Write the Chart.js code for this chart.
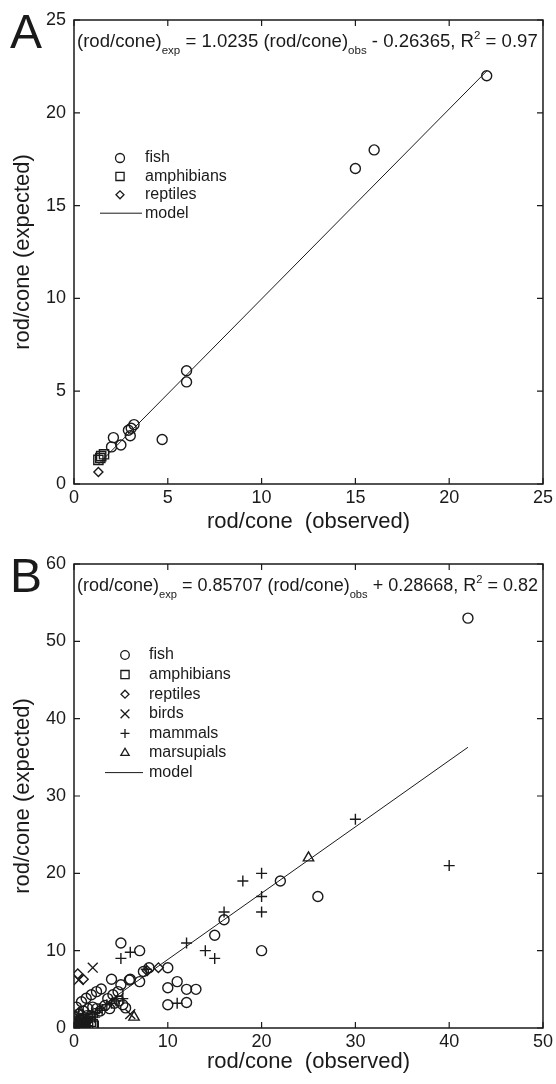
<!DOCTYPE html>
<html>
<head>
<meta charset="utf-8">
<script src="https://cdn.jsdelivr.net/npm/chart.js@4"></script>
<style>
  body { margin: 0; background: #fff; }
  canvas { display: block; }
</style>
</head>
<body>
<canvas id="chartA" width="556" height="544"></canvas>
<canvas id="chartB" width="556" height="540"></canvas>
<script>
// panel A values
const aFishX = [22, 16, 15, 6, 6, 4.7, 3.2, 3.05, 2.9, 3.0, 2.1, 2.0, 2.5];
const aFishY = [22, 18, 17, 6.1, 5.5, 2.4, 3.2, 3.0, 2.9, 2.6, 2.5, 2.0, 2.1];
const aAmphX = [1.3, 1.45, 1.6, 1.4];
const aAmphY = [1.3, 1.5, 1.6, 1.4];
const aReptX = [1.3];
const aReptY = [0.65];
const aModelX = [1.3, 22];
const aModelY = [1.07, 22.25];
const aXTicks = [0, 5, 10, 15, 20, 25];
const aYTicks = [0, 5, 10, 15, 20, 25];

// panel B values
const bFishX = [42, 26, 22, 20, 16, 15, 10, 8, 7.4, 7, 5, 7, 6, 4, 11, 10, 12, 13, 10, 12,
  0.25, 0.8, 1.3, 1.85, 2.4, 2.9, 5.0, 5.9, 3.6, 4.15, 4.7, 3.3, 3.8, 4.3, 4.8, 5.2,
  2.4, 2.8, 0.5, 1.0, 1.5, 2.0, 0.9, 1.4, 0.2, 0.6, 1.8, 5.5];
const bFishY = [53, 17, 19, 10, 14, 12, 7.8, 7.8, 7.3, 10, 11, 6, 6.3, 6.3, 6, 5.2, 5, 5, 3, 3.3,
  2.7, 3.4, 3.85, 4.3, 4.7, 5.05, 5.6, 6.2, 3.8, 4.3, 4.7, 2.9, 2.5, 3.2, 3.5, 3.0,
  2.5, 2.2, 1.8, 2.2, 2.5, 2.7, 1.2, 1.6, 0.9, 0.4, 1.6, 2.6];
const bAmphX = [2.1, 0.3, 0.6, 1.0, 1.5, 0.2, 1.8, 0.4, 0.9, 1.2, 2.0];
const bAmphY = [0.3, 0.2, 0.5, 0.3, 0.15, 0.6, 0.8, 0.0, 0.1, 0.0, 0.5];
const bReptX = [0.4, 1.0, 9.0, 7.8, 0.2, 0.5, 0.1];
const bReptY = [7.0, 6.3, 7.8, 7.4, 1.5, 2.0, 0.5];
const bBirdX = [2.0, 6.0, 0.5, 0.2, 0.8, 1.5, 0.4, 1.2];
const bBirdY = [7.8, 1.8, 6.2, 0.4, 1.0, 0.3, 0.7, 1.3];
const bMammX = [40, 30, 20, 20, 20, 18, 16, 15, 14, 12, 11, 5, 6, 7.7, 5.2,
  0.2, 0.5, 1.0, 1.5, 2.0, 2.5, 3.0, 3.5, 4.0, 4.5, 0.3, 1.2, 0.8,
  0.1, 0.4, 0.7, 1.1, 1.4, 1.7, 2.2, 2.7, 0.5, 0.9];
const bMammY = [21, 27, 20, 17, 15, 19, 15, 9, 10, 11, 3.2, 9, 9.8, 7.6, 3.8,
  0.3, 0.8, 1.0, 1.2, 1.8, 2.0, 2.3, 3.0, 3.2, 3.5, 1.2, 0.5, 0.3,
  0.1, 0.2, 0.6, 0.8, 0.3, 1.5, 1.4, 2.5, 1.4, 1.8];
const bMarsX = [25, 6.4, 0.3, 0.6, 1.0];
const bMarsY = [22, 1.4, 0.3, 0.6, 0.2];
const bModelX = [0.1, 42];
const bModelY = [0.37, 36.3];
const bXTicks = [0, 10, 20, 30, 40, 50];
const bYTicks = [0, 10, 20, 30, 40, 50, 60];

const FONT = '"Liberation Sans", Arial, sans-serif';
const INK = '#1a1a1a';

function pts(xs, ys) {
  return xs.map((x, i) => ({ x: x, y: ys[i] }));
}

function markers(label, xs, ys, style, r) {
  return {
    label: label,
    data: pts(xs, ys),
    pointStyle: style,
    pointRadius: r,
    pointHoverRadius: r,
    pointBorderWidth: 1.4,
    pointBorderColor: INK,
    pointBackgroundColor: 'rgba(0,0,0,0)',
    showLine: false
  };
}

function modelLine(xs, ys) {
  return {
    label: 'model',
    data: pts(xs, ys),
    showLine: true,
    pointRadius: 0,
    borderColor: INK,
    borderWidth: 1,
    fill: false
  };
}

function drawMarker(ctx, style, r, x, y) {
  ctx.save();
  ctx.strokeStyle = INK;
  ctx.fillStyle = 'rgba(0,0,0,0)';
  ctx.lineWidth = 1.3;
  Chart.helpers.drawPoint(ctx, { pointStyle: style, radius: r, rotation: 0, borderWidth: 1.3 }, x, y);
  ctx.restore();
}

// box, inward ticks, panel letter, equation and legend
function decorations(cfg) {
  return {
    id: 'deco',
    afterDraw(chart) {
      const ctx = chart.ctx;
      const a = chart.chartArea;
      const xs = chart.scales.x, ys = chart.scales.y;
      ctx.save();
      ctx.strokeStyle = INK;
      ctx.lineWidth = 1.5;
      ctx.strokeRect(a.left, a.top, a.right - a.left, a.bottom - a.top);
      ctx.lineWidth = 1.2;
      ctx.beginPath();
      cfg.xTicks.forEach(v => {
        const px = xs.getPixelForValue(v);
        ctx.moveTo(px, a.bottom); ctx.lineTo(px, a.bottom - 6);
        ctx.moveTo(px, a.top); ctx.lineTo(px, a.top + 6);
      });
      cfg.yTicks.forEach(v => {
        const py = ys.getPixelForValue(v);
        ctx.moveTo(a.left, py); ctx.lineTo(a.left + 6, py);
        ctx.moveTo(a.right, py); ctx.lineTo(a.right - 6, py);
      });
      ctx.stroke();

      // panel letter
      ctx.fillStyle = INK;
      ctx.font = '48px ' + FONT;
      ctx.textBaseline = 'alphabetic';
      ctx.textAlign = 'left';
      ctx.fillText(cfg.letter, 10, 48);

      // equation, fitted to the box width
      const target = a.right - a.left - 8;
      let size = 17;
      const w0 = drawEq(ctx, cfg.eq, size, 0, 0, false);
      size = size * target / w0;
      drawEq(ctx, cfg.eq, size, a.left + 3, 47, true);

      // legend
      ctx.font = '16px ' + FONT;
      ctx.textBaseline = 'middle';
      cfg.legend.forEach((it, i) => {
        const y = cfg.legTop + i * cfg.legStep;
        if (it.style === 'line') {
          ctx.beginPath();
          ctx.lineWidth = 1;
          ctx.moveTo(cfg.legLine[0], y);
          ctx.lineTo(cfg.legLine[1], y);
          ctx.stroke();
        } else {
          drawMarker(ctx, it.style, it.r, cfg.legMark, y);
        }
        ctx.fillStyle = INK;
        ctx.fillText(it.label, cfg.legText, y);
      });
      ctx.restore();
    }
  };
}

function drawEq(ctx, parts, size, x, y, draw) {
  let cx = x;
  parts.forEach(p => {
    const small = p[1] !== 'n';
    const fs = small ? size * 0.62 : size;
    ctx.font = fs + 'px ' + FONT;
    let dy = 0;
    if (p[1] === 'sub') dy = size * 0.38;
    if (p[1] === 'sup') dy = -size * 0.42;
    if (draw) {
      ctx.fillStyle = INK;
      ctx.textBaseline = 'alphabetic';
      ctx.textAlign = 'left';
      ctx.fillText(p[0], cx, y + dy);
    }
    cx += ctx.measureText(p[0]).width;
  });
  return cx - x;
}

function makeChart(id, datasets, cfg) {
  const tickFont = { family: FONT, size: 18 };
  const titleFont = { family: FONT, size: 22 };
  return new Chart(document.getElementById(id), {
    type: 'scatter',
    data: { datasets: datasets },
    options: {
      responsive: false,
      animation: false,
      devicePixelRatio: 1,
      layout: { padding: { left: 6, right: 11, top: 20, bottom: 5 } },
      plugins: { legend: { display: false }, tooltip: { enabled: false } },
      scales: {
        x: {
          type: 'linear', min: 0, max: cfg.xMax,
          afterBuildTicks: s => { s.ticks = cfg.xTicks.map(v => ({ value: v })); },
          afterFit: s => { s.height = cfg.xHeight; },
          grid: { display: false, drawTicks: false },
          border: { display: false },
          ticks: { font: tickFont, color: INK, padding: 3 },
          title: { display: true, text: 'rod/cone  (observed)', font: titleFont, color: INK }
        },
        y: {
          type: 'linear', min: 0, max: cfg.yMax,
          afterBuildTicks: s => { s.ticks = cfg.yTicks.map(v => ({ value: v })); },
          afterFit: s => { s.width = 68; },
          grid: { display: false, drawTicks: false },
          border: { display: false },
          ticks: { font: tickFont, color: INK, padding: 8 },
          title: { display: true, text: 'rod/cone (expected)', font: titleFont, color: INK }
        }
      }
    },
    plugins: [decorations(cfg)]
  });
}

makeChart('chartA', [
  modelLine(aModelX, aModelY),
  markers('fish', aFishX, aFishY, 'circle', 5),
  markers('amphibians', aAmphX, aAmphY, 'rect', 6.5),
  markers('reptiles', aReptX, aReptY, 'rectRot', 4.5)
], {
  letter: 'A', xMax: 25, yMax: 25, xTicks: aXTicks, yTicks: aYTicks, xHeight: 55,
  eq: [['(rod/cone)', 'n'], ['exp', 'sub'], [' = 1.0235 (rod/cone)', 'n'], ['obs', 'sub'],
       [' - 0.26365, R', 'n'], ['2', 'sup'], [' = 0.97', 'n']],
  legTop: 158, legStep: 18.4, legMark: 120, legText: 145, legLine: [100, 142],
  legend: [
    { label: 'fish', style: 'circle', r: 4.5 },
    { label: 'amphibians', style: 'rect', r: 5.8 },
    { label: 'reptiles', style: 'rectRot', r: 4 },
    { label: 'model', style: 'line' }
  ]
});

makeChart('chartB', [
  modelLine(bModelX, bModelY),
  markers('fish', bFishX, bFishY, 'circle', 5),
  markers('amphibians', bAmphX, bAmphY, 'rect', 6.5),
  markers('reptiles', bReptX, bReptY, 'rectRot', 4.8),
  markers('birds', bBirdX, bBirdY, 'crossRot', 7),
  markers('mammals', bMammX, bMammY, 'cross', 5.5),
  markers('marsupials', bMarsX, bMarsY, 'triangle', 6)
], {
  letter: 'B', xMax: 50, yMax: 60, xTicks: bXTicks, yTicks: bYTicks, xHeight: 51,
  eq: [['(rod/cone)', 'n'], ['exp', 'sub'], [' = 0.85707 (rod/cone)', 'n'], ['obs', 'sub'],
       [' + 0.28668, R', 'n'], ['2', 'sup'], [' = 0.82', 'n']],
  legTop: 111, legStep: 19.6, legMark: 125, legText: 149, legLine: [105, 143],
  legend: [
    { label: 'fish', style: 'circle', r: 4.3 },
    { label: 'amphibians', style: 'rect', r: 5.8 },
    { label: 'reptiles', style: 'rectRot', r: 4 },
    { label: 'birds', style: 'crossRot', r: 6.2 },
    { label: 'mammals', style: 'cross', r: 4.5 },
    { label: 'marsupials', style: 'triangle', r: 4.8 },
    { label: 'model', style: 'line' }
  ]
});
</script>
</body>
</html>
